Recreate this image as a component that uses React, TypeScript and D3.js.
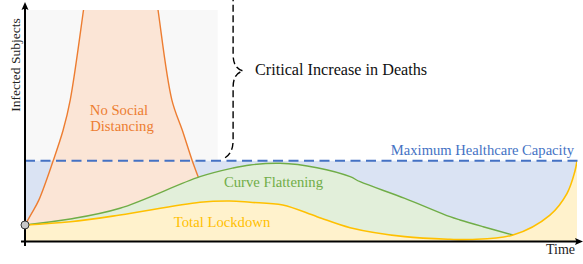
import React from "react";
import * as d3 from "d3";

// curves as [time, infected]; capacity = 100
const noDistancing: [number, number][] = [
  [0, 20], [1.2, 34.5], [2.5, 51], [5.1, 100], [6.9, 138], [8.2, 176], [10.6, 288],
  [12, 360], [17.3, 520], [22.7, 360], [24.1, 288], [26.6, 176], [28.5, 138], [30.3, 100], [31.4, 79.4],
];
const flattening: [number, number][] = [
  [0, 20], [8.2, 27.4], [17.2, 40.8], [31.7, 80.2], [37.7, 91], [40.8, 94.8], [46.2, 96.9],
  [52.9, 91.4], [58.9, 80.2], [60.7, 73.9], [68.8, 53.2], [77, 30.3], [78.8, 26.2], [83, 17.8], [88.4, 7.5],
];
const lockdown: [number, number][] = [
  [0, 20], [8.2, 24], [17.2, 32.4], [31.7, 48.3], [37.1, 49.9], [40.8, 48.3], [46.7, 44.9],
  [52.9, 30.3], [58.9, 16.6], [68.8, 5.4], [77, 2.1], [80.6, 1.9], [88.4, 7.5], [95.1, 32.4],
  [98.2, 59.5], [99.6, 86.4], [100, 100],
];
const capacity = 100;
const grayBoxEnd = 34.9;
const braceT = 37.7;
const braceMid = 212;

const W = 583, H = 264;
const font = "Liberation Serif";

export default function App() {
  const x = d3.scaleLinear().domain([0, 100]).range([25, 577]);
  const y = d3.scaleLinear().domain([0, 288]).range([241, 10]);

  const area = d3.area<[number, number]>()
    .x(d => x(d[0])).y0(y(0)).y1(d => y(d[1])).curve(d3.curveCatmullRom);
  const line = d3.line<[number, number]>()
    .x(d => x(d[0])).y(d => y(d[1])).curve(d3.curveCatmullRom);

  const x0 = x(0), y0 = y(0), yc = y(capacity), yTop = y(288);

  // dashed curly brace
  const bx = x(braceT), bm = y(braceMid), bb = yc - 3;
  const brace = d3.path();
  brace.moveTo(bx - 8, bb);
  brace.bezierCurveTo(bx - 2, bb - 4, bx, bb - 10, bx, bb - 18);
  brace.lineTo(bx, bm + 17);
  brace.bezierCurveTo(bx, bm + 7, bx + 3, bm + 2, bx + 10, bm);
  brace.bezierCurveTo(bx + 3, bm - 2, bx, bm - 7, bx, bm - 17);
  brace.lineTo(bx, -20);

  return (
    <svg width={W} height={H} style={{ position: "absolute", left: 0, top: 0, fontFamily: font }}>
      <defs>
        <clipPath id="plot">
          <rect x={x0} y={yTop} width={x(100) - x0} height={y0 - yTop} />
        </clipPath>
      </defs>
      <rect x={x0} y={yTop} width={x(grayBoxEnd) - x0} height={yc - yTop} fill="#f8f8f8" />
      <rect x={x0} y={yc} width={x(100) - x0} height={y0 - yc} fill="#dae3f3" />
      <g clipPath="url(#plot)">
        <path d={area(noDistancing)!} fill="#fbe5d6" />
        <path d={area(flattening)!} fill="#e2efda" />
        <path d={area(lockdown)!} fill="#fff2cc" />
        <path d={line(noDistancing)!} fill="none" stroke="#ed7d31" strokeWidth={1.4} />
        <path d={line(flattening)!} fill="none" stroke="#70ad47" strokeWidth={1.4} />
        <path d={line(lockdown)!} fill="none" stroke="#ffc000" strokeWidth={1.6} />
      </g>
      <line x1={x0} x2={x(100) + 1} y1={yc} y2={yc} stroke="#4472c4" strokeWidth={2} strokeDasharray="10 5.5" />
      <path d={brace.toString()} fill="none" stroke="black" strokeWidth={1.4} strokeDasharray="7 3.5" />

      {/* axes */}
      <line x1={x0} x2={x0} y1={y0 + 5} y2={8} stroke="black" strokeWidth={2} />
      <path d={`M${x0},2 L${x0 + 3.5},10 L${x0},8.5 L${x0 - 3.5},10 Z`} fill="black" />
      <line x1={x0 - 4} x2={W - 5} y1={y0 + 0.5} y2={y0 + 0.5} stroke="black" strokeWidth={2} />
      <path d={`M${W},${y0 + 0.5} L${W - 8},${y0 - 3} L${W - 6.5},${y0 + 0.5} L${W - 8},${y0 + 4} Z`} fill="black" />
      <circle cx={x0} cy={y(20)} r={4} fill="#c8c8c8" stroke="#333" strokeWidth={1} />

      {/* labels */}
      <text transform={`translate(19.5,${65}) rotate(-90)`} textAnchor="middle" fontSize={13.5} fill="#222">Infected Subjects</text>
      <text x={W - 8} y={254} textAnchor="end" fontSize={14} fill="#222">Time</text>
      <text x={119} y={115} textAnchor="middle" fontSize={14.7} fill="#ed7d31">No Social</text>
      <text x={122} y={131} textAnchor="middle" fontSize={14.7} fill="#ed7d31">Distancing</text>
      <text x={273.5} y={187} textAnchor="middle" fontSize={14.7} fill="#70ad47">Curve Flattening</text>
      <text x={222} y={227} textAnchor="middle" fontSize={14.7} fill="#ffc000">Total Lockdown</text>
      <text x={574} y={155} textAnchor="end" fontSize={14.6} fill="#4472c4">Maximum Healthcare Capacity</text>
      <text x={255} y={75} fontSize={16.2} fill="#111">Critical Increase in Deaths</text>
    </svg>
  );
}
